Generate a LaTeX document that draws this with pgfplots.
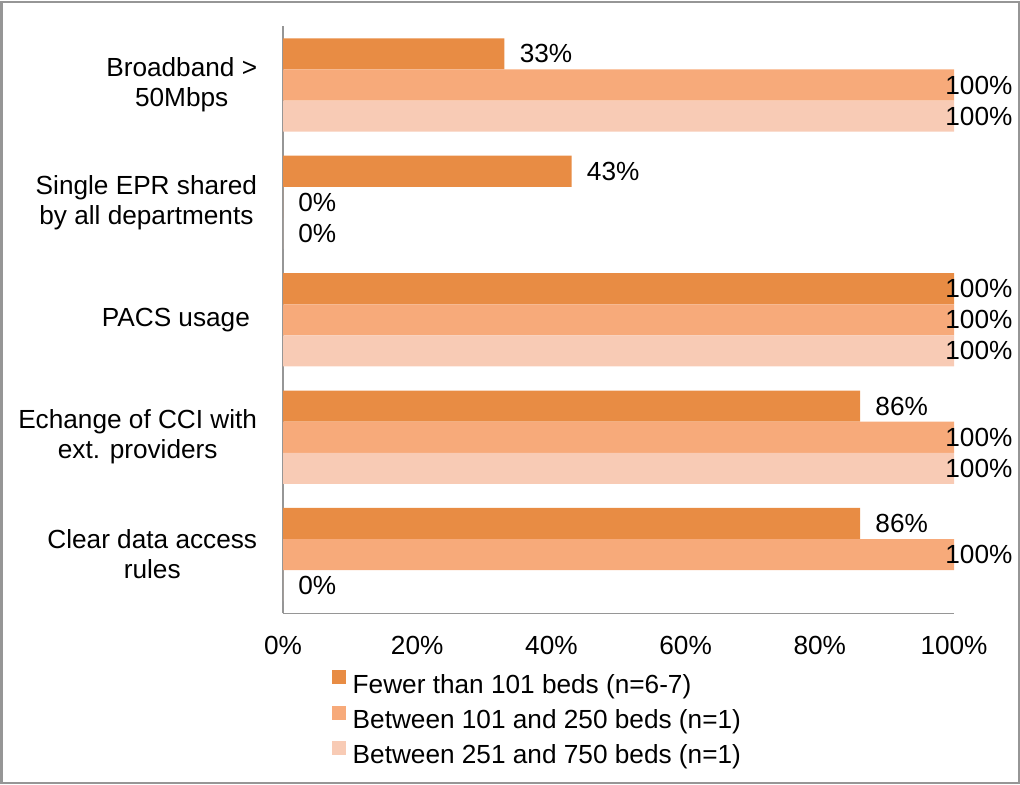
\documentclass[border=0pt]{standalone}
\usepackage{fontspec}
\setmainfont{Liberation Sans}
\usepackage{pgfplots}
\pgfplotsset{compat=1.18}
\definecolor{c1}{RGB}{232,140,68}
\definecolor{c2}{RGB}{247,170,122}
\definecolor{c3}{RGB}{248,203,181}
\definecolor{axgray}{RGB}{150,150,150}
\pgfplotsset{sq/.style={legend image code/.code={\fill[##1,draw=none] (0bp,0.8bp) rectangle (7bp,7.8bp);}}}
\begin{document}
\begin{tikzpicture}[x=1bp,y=1bp]
\useasboundingbox (0,0) rectangle (510,392);
\draw[axgray, line width=1bp] (0.75,0.65) rectangle (509.25,391);
\begin{axis}[
  at={(141.5bp,85.35bp)}, anchor=south west,
  scale only axis, width=335.5bp, height=293.5bp,
  xbar, bar width=0.265, clip=false,
  xmin=0, xmax=100, ymin=-0.5, ymax=4.5,
  axis x line*=bottom, axis y line*=left,
  axis line style={axgray, line width=0.75bp, -},
  major tick length=0pt,
  font=\fontsize{13.1bp}{15bp}\selectfont,
  xtick={0,20,40,60,80,100},
  xticklabels={0\%,20\%,40\%,60\%,80\%,100\%},
  xticklabel style={inner sep=0pt, anchor=north, yshift=-11bp},
  ytick={0,1,2,3,4},
  yticklabels={{Clear data access\\rules},{Echange of CCI with\\ext. providers},{PACS usage\hspace*{3.6bp}},{Single EPR shared\\by all departments},{Broadband >\\50Mbps}},
  yticklabel style={align=center, anchor=east, inner sep=0pt, xshift=-12.75bp, font=\fontsize{13.1bp}{15bp}\selectfont},
  point meta=x,
  visualization depends on={rawx \as \rawx},
  nodes near coords={\pgfmathprintnumber[assume math mode=true]{\pgfplotspointmeta}\%},
  every node near coord/.append style={anchor=west, inner sep=0pt, black, font=\fontsize{13.1bp}{15bp}\selectfont, xshift={7.5bp-(\rawx>99)*12bp}},
  legend style={at={(0.0726,-0.0966)}, anchor=north west, draw=none, fill=none, inner sep=0pt,
    row sep=3.25bp, font=\fontsize{13.1bp}{15bp}\selectfont,
    nodes={inner sep=0pt, text height=10bp, text depth=3bp},
    /tikz/every odd column/.append style={column sep=3.3bp}},
  legend cell align=left,
]
\addplot[sq, fill=c1, draw=none, bar shift=0.265] coordinates {(86,0) (86,1) (100,2) (43,3) (33,4)};
\addplot[sq, fill=c2, draw=none, bar shift=0] coordinates {(100,0) (100,1) (100,2) (0,3) (100,4)};
\addplot[sq, fill=c3, draw=none, bar shift=-0.265] coordinates {(0,0) (100,1) (100,2) (0,3) (100,4)};
\legend{Fewer than 101 beds (n=6-7),Between 101 and 250 beds (n=1),Between 251 and 750 beds (n=1)}
\end{axis}
\end{tikzpicture}
\end{document}
